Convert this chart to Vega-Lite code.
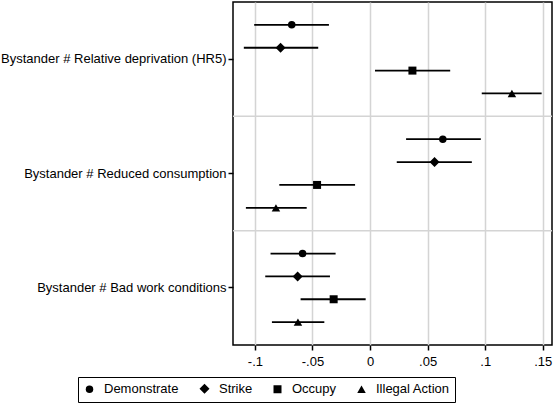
{
  "$schema": "https://vega.github.io/schema/vega-lite/v6.json",
  "autosize": {"type": "none"},
  "padding": {"left": 233, "top": 2, "right": 3, "bottom": 60},
  "width": 319,
  "height": 343,
  "config": {
    "font": "Liberation Sans",
    "view": {"stroke": "black", "strokeWidth": 1.5},
    "axis": {"labelFont": "Liberation Sans", "labelFontSize": 13, "labelColor": "black", "tickColor": "black", "tickWidth": 1.5, "tickSize": 5, "domain": false, "title": null, "labelLimit": 400}
  },
  "datasets": {
    "coef": [
      {"group": "Bystander # Relative deprivation (HR5)", "series": "Demonstrate", "est": -0.068, "lo": -0.1006, "hi": -0.0357},
      {"group": "Bystander # Relative deprivation (HR5)", "series": "Strike", "est": -0.0777, "lo": -0.1096, "hi": -0.045},
      {"group": "Bystander # Relative deprivation (HR5)", "series": "Occupy", "est": 0.0368, "lo": 0.0043, "hi": 0.0696},
      {"group": "Bystander # Relative deprivation (HR5)", "series": "Illegal Action", "est": 0.1232, "lo": 0.097, "hi": 0.149},
      {"group": "Bystander # Reduced consumption", "series": "Demonstrate", "est": 0.0632, "lo": 0.0313, "hi": 0.0962},
      {"group": "Bystander # Reduced consumption", "series": "Strike", "est": 0.056, "lo": 0.0232, "hi": 0.0884},
      {"group": "Bystander # Reduced consumption", "series": "Occupy", "est": -0.046, "lo": -0.0788, "hi": -0.013},
      {"group": "Bystander # Reduced consumption", "series": "Illegal Action", "est": -0.0817, "lo": -0.1078, "hi": -0.055},
      {"group": "Bystander # Bad work conditions", "series": "Demonstrate", "est": -0.0586, "lo": -0.0864, "hi": -0.0299},
      {"group": "Bystander # Bad work conditions", "series": "Strike", "est": -0.0629, "lo": -0.091, "hi": -0.0348},
      {"group": "Bystander # Bad work conditions", "series": "Occupy", "est": -0.0316, "lo": -0.0603, "hi": -0.0038},
      {"group": "Bystander # Bad work conditions", "series": "Illegal Action", "est": -0.0626, "lo": -0.0852, "hi": -0.0397}
    ],
    "bounds": [
      {"group": "Bystander # Reduced consumption"},
      {"group": "Bystander # Bad work conditions"}
    ]
  },
  "encoding": {
    "y": {
      "field": "group", "type": "nominal",
      "scale": {"domain": ["Bystander # Relative deprivation (HR5)", "Bystander # Reduced consumption", "Bystander # Bad work conditions"], "paddingInner": 0, "paddingOuter": 0},
      "axis": {"grid": false, "labelPadding": 2}
    }
  },
  "layer": [
    {
      "data": {"name": "bounds"},
      "mark": {"type": "rule", "color": "#d4d4d4", "strokeWidth": 1.5},
      "encoding": {
        "y": {"field": "group", "type": "nominal", "bandPosition": 0}
      }
    },
    {
      "data": {"name": "coef"},
      "mark": {"type": "rule", "color": "black", "strokeWidth": 1.8},
      "encoding": {
        "x": {
          "field": "lo", "type": "quantitative",
          "scale": {"domain": [-0.119, 0.158], "nice": false, "zero": false},
          "axis": {
            "values": [-0.1, -0.05, 0, 0.05, 0.1, 0.15],
            "grid": true, "gridColor": "#d4d4d4", "gridWidth": 1.5, "labelPadding": 5,
            "labelExpr": "datum.value == 0 ? '0' : (datum.value < 0 ? '-' : '') + replace(format(abs(datum.value), '.2~f'), '0.', '.')"
          }
        },
        "x2": {"field": "hi"},
        "yOffset": {"field": "series", "type": "nominal", "scale": {"type": "point", "padding": 1, "domain": ["Demonstrate", "Strike", "Occupy", "Illegal Action"]}}
      }
    },
    {
      "data": {"name": "coef"},
      "mark": {"type": "rule", "color": "black", "strokeWidth": 1.8, "strokeDash": [2, 2]},
      "encoding": {
        "x": {"datum": 0, "type": "quantitative"}
      }
    },
    {
      "data": {"name": "coef"},
      "mark": {"type": "point", "filled": true, "color": "black", "opacity": 1},
      "encoding": {
        "x": {"field": "est", "type": "quantitative"},
        "yOffset": {"field": "series", "type": "nominal", "scale": {"type": "point", "padding": 1, "domain": ["Demonstrate", "Strike", "Occupy", "Illegal Action"]}},
        "size": {
          "field": "series", "type": "nominal",
          "scale": {"type": "ordinal", "domain": ["Demonstrate", "Strike", "Occupy", "Illegal Action"], "range": [56, 100, 64, 72]}
        },
        "shape": {
          "field": "series", "type": "nominal",
          "scale": {"domain": ["Demonstrate", "Strike", "Occupy", "Illegal Action"], "range": ["circle", "diamond", "square", "triangle-up"]},
          "legend": {
            "title": null, "orient": "none", "direction": "horizontal",
            "legendX": -155, "legendY": 375,
            "strokeColor": "black", "fillColor": "white", "padding": 5,
            "labelFont": "Liberation Sans", "labelFontSize": 13, "labelColor": "black",
            "labelOffset": 8, "columnPadding": 17,
            "symbolFillColor": "black", "symbolStrokeColor": "black", "symbolOpacity": 1
          }
        }
      }
    }
  ]
}
